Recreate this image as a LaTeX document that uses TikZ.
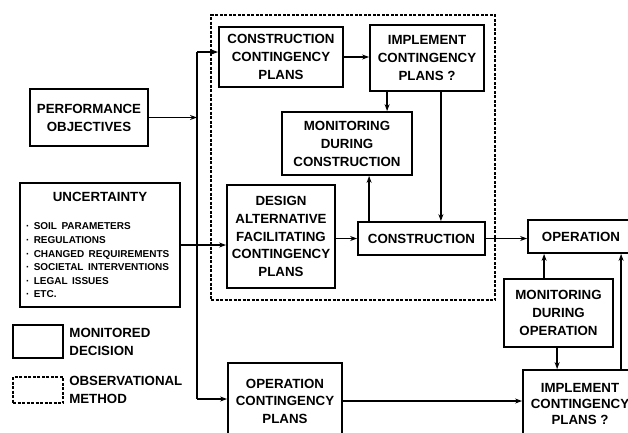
\documentclass[tikz,border=0pt]{standalone}
\usepackage{fontspec}
\setmainfont{Liberation Sans}
\usetikzlibrary{arrows.meta,positioning}

\begin{document}
\begin{tikzpicture}[x=1pt, y=-1pt,
  font=\fontsize{13.3}{18}\selectfont\bfseries,
  box/.style={draw, line width=1.8pt, align=center, inner sep=2pt},
  obs/.style={draw, line width=1.5pt, dash pattern=on 3pt off 1.5pt},
  ln/.style={line width=1.6pt},
  arr/.style={-{Stealth[length=7pt,width=5pt]}, line width=1.6pt}]
\useasboundingbox (0,0) rectangle (628,432);
% observational method frame
\node[obs, minimum width=284, minimum height=285] (frame) at (353,157.5) {};
% inputs (left)
\node[box, minimum width=118, minimum height=57] (perf) at (89,117.5) {PERFORMANCE\\OBJECTIVES};
\node[box, minimum width=160, minimum height=124, text width=148pt, align=left, inner xsep=6pt] (unc) at (100,245)
  {\makebox[148pt]{UNCERTAINTY}\\[15pt]
   \fontsize{10}{13.6}\selectfont
   · SOIL PARAMETERS\\· REGULATIONS\\· CHANGED REQUIREMENTS\\· SOCIETAL INTERVENTIONS\\· LEGAL ISSUES\\· ETC.\par};
% construction stage (inside frame)
\node[box, minimum width=124, minimum height=60] (ccp) at (281,57) {CONSTRUCTION\\CONTINGENCY\\PLANS};
\node[box, minimum width=114, minimum height=66] (impl) at (427,58) {IMPLEMENT\\CONTINGENCY\\PLANS ?};
\node[box, minimum width=130, minimum height=63] (moncon) at (347,143.5) {MONITORING\\DURING\\CONSTRUCTION};
\node[box, minimum width=108, minimum height=103, font=\fontsize{13.3}{17.7}\selectfont\bfseries] (design) at (281,236.5) {DESIGN\\ALTERNATIVE\\FACILITATING\\CONTINGENCY\\PLANS};
\node[box, minimum width=127, minimum height=33] (constr) at (421.5,238.5) {CONSTRUCTION};
% operation stage
\node[box, minimum width=106, minimum height=33] (oper) at (581,236.5) {OPERATION};
\node[box, minimum width=109, minimum height=68] (monop) at (558.5,313) {MONITORING\\DURING\\OPERATION};
\node[box, minimum width=114, minimum height=68, font=\fontsize{13.3}{16}\selectfont\bfseries] (implop) at (580,404) {IMPLEMENT\\CONTINGENCY\\PLANS ?};
\node[box, minimum width=114, minimum height=76, font=\fontsize{13.3}{17.5}\selectfont\bfseries] (ocp) at (285,401) {OPERATION\\CONTINGENCY\\PLANS};
% legend
\node[box, minimum width=50, minimum height=33] (legmon) at (38,341.5) {};
\node[obs, minimum width=50, minimum height=26] (legobs) at (38,390) {};
\node[right=2pt of legmon, align=left] (legmontxt) {MONITORED\\DECISION};
\node[right=2pt of legobs, align=left] (legobstxt) {OBSERVATIONAL\\METHOD};
% connectors
\coordinate (jtop) at (197,52);
\coordinate (jbot) at (197,399);
\draw[ln] (jtop) -- (jbot);
\draw[arr] (perf.east) -- (perf.east -| jtop);
\draw[arr] (jtop) -- (jtop -| ccp.west);
\draw[arr] (jbot) -- (jbot -| ocp.west);
\draw[arr] (unc.east) -- (unc.east -| design.west);
\draw[arr] (ccp.east) -- (ccp.east -| impl.west);
\coordinate (c1) at ([xshift=18pt]impl.south west);
\draw[arr] (c1) -- (c1 |- moncon.north);
\coordinate (c2) at ([xshift=12pt]constr.north west);
\draw[arr] (c2) -- (c2 |- moncon.south);
\coordinate (c3) at ([xshift=-44pt]impl.south east);
\draw[arr] (c3) -- (c3 |- constr.north);
\draw[arr] (constr.west -| design.east) -- (constr.west);
\draw[arr] (constr.east) -- (constr.east -| oper.west);
\coordinate (c4) at ([xshift=41pt]monop.north west);
\draw[arr] (c4) -- (c4 |- oper.south);
\coordinate (c5) at ([xshift=54pt]monop.south west);
\draw[arr] (c5) -- (c5 |- implop.north);
\coordinate (c6) at ([xshift=99pt]implop.north west);
\draw[arr] (c6) -- (c6 |- oper.south);
\draw[arr] (ocp.east) -- (ocp.east -| implop.west);
\end{tikzpicture}
\end{document}
